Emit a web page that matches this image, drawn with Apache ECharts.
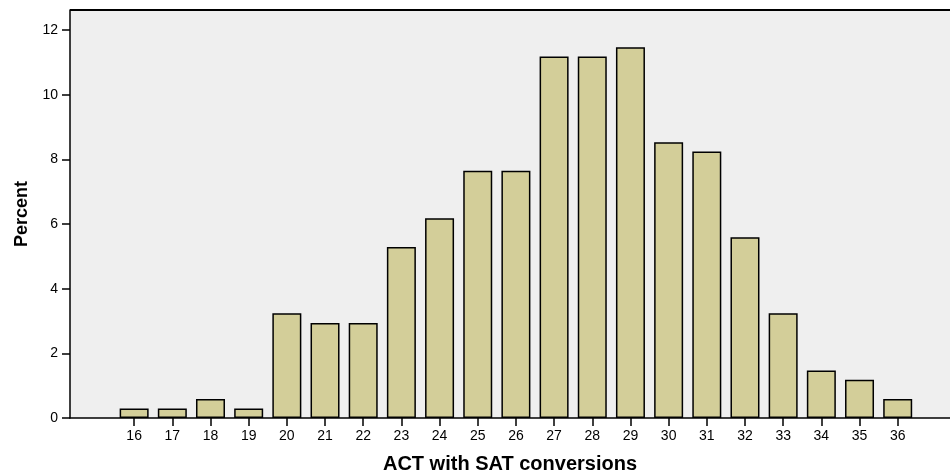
<!DOCTYPE html>
<html>
<head>
<meta charset="utf-8">
<script src="https://cdn.jsdelivr.net/npm/echarts@6/dist/echarts.min.js"></script>
<style>
html,body{margin:0;padding:0;background:#fff;}
#chart{width:950px;height:472px;}
</style>
</head>
<body>
<div id="chart"></div>
<script>
const categories = [16,17,18,19,20,21,22,23,24,25,26,27,28,29,30,31,32,33,34,35,36];
const percentValues = [0.29,0.29,0.59,0.29,3.24,2.94,2.94,5.29,6.18,7.65,7.65,11.18,11.18,11.47,8.53,8.24,5.59,3.24,1.47,1.18,0.59];
const yTicks = [0,2,4,6,8,10,12];

const chart = echarts.init(document.getElementById('chart'));
const font = '"Liberation Sans", Arial, sans-serif';
chart.setOption({
  animation: false,
  backgroundColor: '#ffffff',
  grid: {left: 70, right: 0, top: 10, bottom: 54, show: true, backgroundColor: '#efefef', borderWidth: 0, containLabel: false, outerBoundsMode: 'none'},
  xAxis: {
    type: 'value',
    min: 14.32,
    max: 37.37,
    name: 'ACT with SAT conversions',
    nameLocation: 'middle',
    nameGap: 36,
    nameTextStyle: {fontFamily: font, fontWeight: 'bold', fontSize: 20, color: '#000'},
    axisLine: {show: true, lineStyle: {color: '#000', width: 1.5}},
    axisTick: {show: true, length: 8, customValues: categories, lineStyle: {color: '#000', width: 1.5}},
    axisLabel: {customValues: categories, color: '#000', fontFamily: font, fontSize: 14, margin: 11},
    splitLine: {show: false}
  },
  yAxis: {
    type: 'value',
    min: 0,
    max: 12.62,
    name: 'Percent',
    nameLocation: 'middle',
    nameGap: 38,
    nameRotate: 90,
    nameTextStyle: {fontFamily: font, fontWeight: 'bold', fontSize: 18, color: '#000'},
    axisLine: {show: true, lineStyle: {color: '#000', width: 1.5}},
    axisTick: {show: true, length: 8, customValues: yTicks, lineStyle: {color: '#000', width: 1.5}},
    axisLabel: {customValues: yTicks, color: '#000', fontFamily: font, fontSize: 14, margin: 12},
    splitLine: {show: false}
  },
  graphic: [{
    type: 'line', shape: {x1: 70, y1: 10, x2: 950, y2: 10},
    style: {stroke: '#000', lineWidth: 2}
  }],
  series: [{
    type: 'bar',
    barWidth: 29,
    data: categories.map((c, i) => [c, percentValues[i]]),
    itemStyle: {color: '#d3ce99', borderColor: '#000', borderWidth: 1.5}
  }]
});
</script>
</body>
</html>
